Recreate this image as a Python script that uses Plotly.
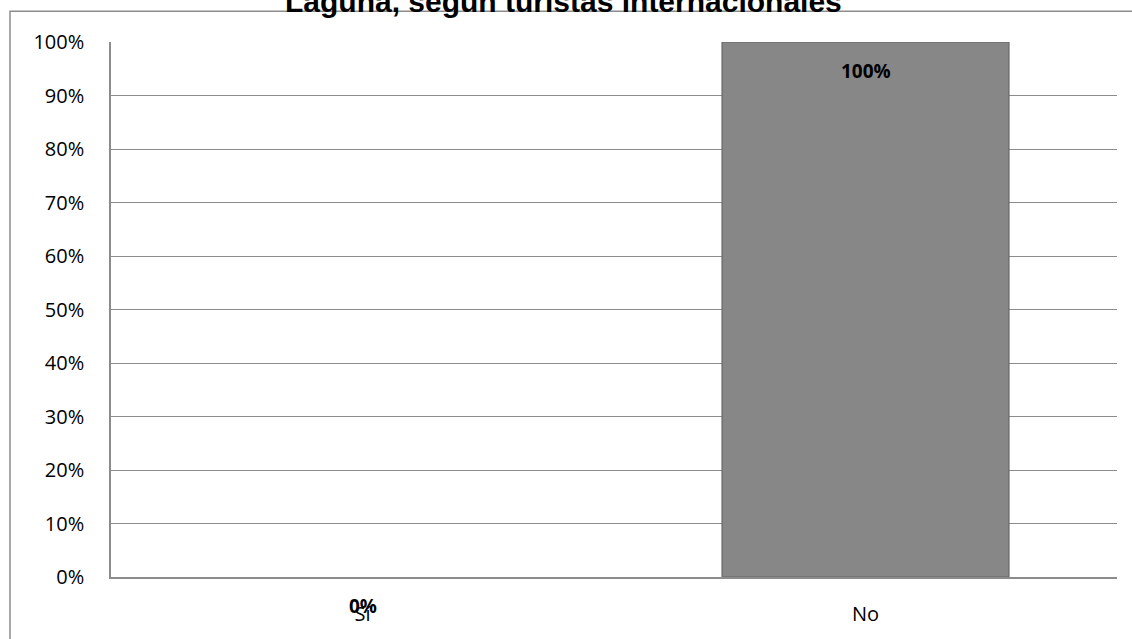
import plotly.graph_objects as go

# Survey answers and their shares
categories = ["Sí", "No"]
shares = [0.0, 1.0]
share_labels = ["0%", "100%"]
y_ticks = [0, 0.1, 0.2, 0.3, 0.4, 0.5, 0.6, 0.7, 0.8, 0.9, 1.0]
y_tick_text = ["0%", "10%", "20%", "30%", "40%", "50%", "60%", "70%", "80%", "90%", "100%"]
title_text = "Laguna, según turistas internacionales"

TICK_FONT = "Open Sans, Liberation Sans, sans-serif"

fig = go.Figure()
fig.add_trace(go.Bar(
    x=categories,
    y=shares,
    width=0.57,
    marker=dict(
        color="#878787",
        line=dict(color="#707070", width=[1.5 if v > 0 else 0 for v in shares]),
    ),
    hoverinfo="skip",
))

# value labels placed just below each bar's top
for cat, val, lab in zip(categories, shares, share_labels):
    fig.add_annotation(
        x=cat, y=val, xref="x", yref="y",
        text=f"<b>{lab}</b>", showarrow=False,
        yanchor="top", yshift=-14,
        font=dict(family=TICK_FONT, size=19, color="#000000"),
    )

# chart title, partly above the top edge of the page
fig.add_annotation(
    x=0.45, y=1.041, xref="paper", yref="paper",
    text=f"<b>{title_text}</b>", showarrow=False,
    xanchor="center", yanchor="bottom",
    font=dict(family="Liberation Sans, Arial, sans-serif", size=30, color="#000000"),
)

# outer chart-area frame
fig.add_shape(
    type="rect", xref="paper", yref="paper",
    x0=-0.1004, y0=-0.3, x1=1.3, y1=1.0576,
    line=dict(color="#8c8c8c", width=1.5),
    fillcolor="rgba(0,0,0,0)", layer="below",
)

fig.update_layout(
    width=1132, height=639,
    margin=dict(l=111, r=15, t=42, b=59),
    paper_bgcolor="#ffffff", plot_bgcolor="#ffffff",
    showlegend=False,
    bargap=0.43,
)
fig.update_xaxes(
    showline=True, linecolor="#8c8c8c", linewidth=1.5,
    showgrid=False, ticks="",
    tickfont=dict(family=TICK_FONT, size=20, color="#000000"),
    ticklabelstandoff=18,
)
fig.update_yaxes(
    range=[0, 1], tickvals=y_ticks, ticktext=y_tick_text,
    showline=True, linecolor="#8c8c8c", linewidth=1.5,
    showgrid=True, gridcolor="#8c8c8c", gridwidth=1,
    zeroline=False, ticks="",
    tickfont=dict(family=TICK_FONT, size=20, color="#000000"),
    ticklabelstandoff=21,
)

fig.write_html("out.html")
